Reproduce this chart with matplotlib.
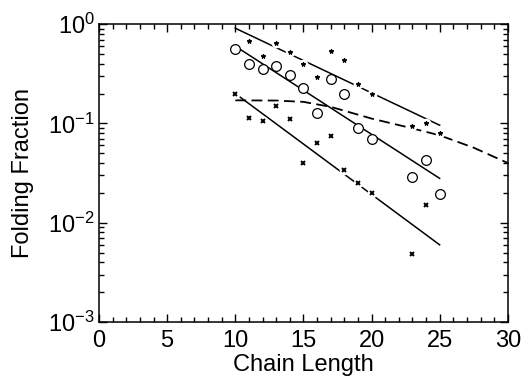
import numpy as np
import matplotlib.pyplot as plt
from matplotlib.ticker import LogLocator, MultipleLocator, NullFormatter

plt.rcParams['font.family'] = ['Liberation Sans', 'DejaVu Sans']

# Circles (open)
circ_x = [10, 11, 12, 13, 14, 15, 16, 17, 18, 19, 20, 23, 24, 25]
circ_y = [0.56, 0.40, 0.35, 0.38, 0.31, 0.225, 0.126, 0.28, 0.197, 0.090, 0.069, 0.029, 0.043, 0.0197]

# Small stars
star_x = [11, 12, 13, 14, 15, 16, 17, 18, 19, 20, 23, 24, 25]
star_y = [0.68, 0.475, 0.65, 0.53, 0.40, 0.295, 0.54, 0.44, 0.25, 0.197, 0.094, 0.101, 0.081]

# Crosses
cross_x = [10, 11, 12, 13, 14, 15, 16, 17, 18, 19, 20, 23, 24]
cross_y = [0.20, 0.114, 0.106, 0.149, 0.112, 0.040, 0.0636, 0.0743, 0.0343, 0.0251, 0.020, 0.0049, 0.015]

# Fitted lines (end points)
fit_x = [10, 25]
star_fit = [0.91, 0.096]
circ_fit = [0.60, 0.028]
cross_fit = [0.20, 0.006]

# Dashed curve
dash_x = [10, 13, 15, 17, 20, 22.6, 25, 27.5, 30]
dash_y = [0.171, 0.170, 0.165, 0.147, 0.112, 0.092, 0.076, 0.057, 0.040]

fig = plt.figure(figsize=(5.24, 3.83), dpi=100)
ax = fig.add_axes([0.189, 0.159, 0.780, 0.778])

lw = 1.1
ax.plot(fit_x, star_fit, color='black', lw=lw, zorder=2)
ax.plot(fit_x, circ_fit, color='black', lw=lw, zorder=2)
ax.plot(fit_x, cross_fit, color='black', lw=lw, zorder=2)
ax.plot(dash_x, dash_y, color='black', lw=1.3, linestyle=(0, (6, 3)), zorder=2)

# white halos that cut the lines around the small markers
ax.plot(star_x, star_y, 'o', color='white', ms=7, mew=0, zorder=3)
ax.plot(cross_x, cross_y, 'o', color='white', ms=7, mew=0, zorder=3)

ax.plot(star_x, star_y, '*', color='black', ms=3.3, mew=0.8, zorder=4)
ax.plot(cross_x, cross_y, 'x', color='black', ms=3.3, mew=1.4, zorder=4)
ax.plot(circ_x, circ_y, 'o', mfc='white', mec='black', ms=7, mew=0.9, zorder=4)

ax.set_yscale('log')
ax.set_xlim(0, 30)
ax.set_ylim(1e-3, 1)

ax.xaxis.set_major_locator(MultipleLocator(5))
ax.xaxis.set_minor_locator(MultipleLocator(1))
ax.yaxis.set_major_locator(LogLocator(base=10, numticks=10))
ax.yaxis.set_minor_locator(LogLocator(base=10, subs=np.arange(2, 10), numticks=10))
ax.yaxis.set_minor_formatter(NullFormatter())

ax.tick_params(which='both', direction='in', top=True, right=True, labelsize=17, width=1.0)
ax.tick_params(which='major', length=6)
ax.tick_params(which='minor', length=3.5)
ax.tick_params(axis='x', pad=6)
ax.tick_params(axis='y', pad=3)

for s in ax.spines.values():
    s.set_linewidth(1.1)

ax.set_xlabel('Chain Length', fontsize=17, labelpad=1)
ax.set_ylabel('Folding Fraction', fontsize=17, labelpad=10)

fig.savefig('out.png', dpi=100)
